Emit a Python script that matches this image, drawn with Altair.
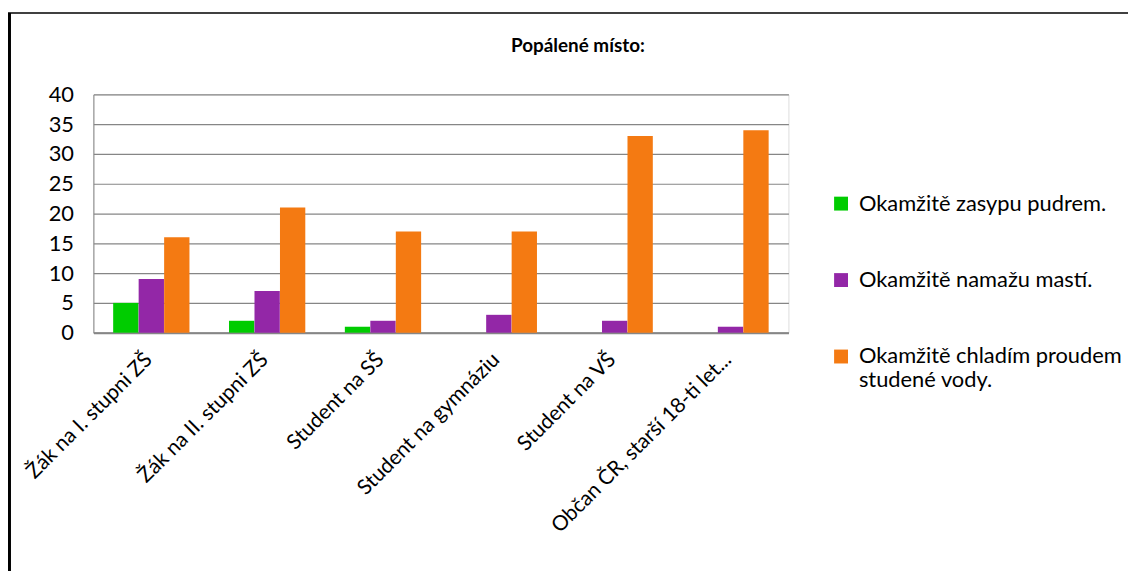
import altair as alt
import pandas as pd

categories = ["Žák na I. stupni ZŠ", "Žák na II. stupni ZŠ", "Student na SŠ",
              "Student na gymnáziu", "Student na VŠ", "Občan ČR, starší 18-ti let..."]
series = ["Okamžitě zasypu pudrem.", "Okamžitě namažu mastí.",
          "Okamžitě chladím proudem studené vody."]
pudr = [5, 2, 1, 0, 0, 0]
mast = [9, 7, 2, 3, 2, 1]
voda = [16, 21, 17, 17, 33, 34]
colors = ["#00CC00", "#9327A7", "#F47A12"]

rows = []
for s, vals in zip(series, [pudr, mast, voda]):
    for c, v in zip(categories, vals):
        rows.append({"kategorie": c, "serie": s, "hodnota": v})
df = pd.DataFrame(rows)

FONT = "Lato"

bars = alt.Chart(df).mark_bar(size=25.5).encode(
    x=alt.X("kategorie:N", sort=categories, title=None,
            scale=alt.Scale(paddingInner=0.34, paddingOuter=0.17),
            axis=alt.Axis(labelAngle=-45, labelFontSize=21, labelFont=FONT,
                          labelColor="black", ticks=False, domainColor="#868686",
                          domainWidth=2, labelPadding=16, labelOffset=-10,
                          grid=False, labelLimit=400)),
    xOffset=alt.XOffset("serie:N", sort=series),
    y=alt.Y("hodnota:Q", title=None,
            scale=alt.Scale(domain=[0, 40], nice=False),
            axis=alt.Axis(values=list(range(0, 41, 5)), labelFontSize=22,
                          labelFont=FONT, labelColor="black", ticks=False,
                          domainColor="#868686", domainWidth=1,
                          gridColor="#868686", gridWidth=1.2, labelPadding=20)),
    color=alt.Color("serie:N", sort=series,
                    scale=alt.Scale(domain=series, range=colors),
                    legend=alt.Legend(
                        title=None, orient="none", legendX=742, legendY=99,
                        symbolType="square", symbolSize=196, symbolStrokeWidth=0,
                        labelFont=FONT, labelFontSize=22, labelColor="black",
                        labelOffset=7, rowPadding=55, padding=0, labelLimit=400,
                        labelExpr="datum.label == 'Okamžitě chladím proudem studené vody.' ? ['Okamžitě chladím proudem', 'studené vody.'] : datum.label")),
)

frame_df = pd.DataFrame({"k": [0]})
left_line = alt.Chart(frame_df).mark_rule(color="black", strokeWidth=3).encode(
    x=alt.value(-84.5), y=alt.value(-82), y2=alt.value(480))
top_line = alt.Chart(frame_df).mark_rule(color="black", strokeWidth=1.5).encode(
    x=alt.value(-86), x2=alt.value(1050), y=alt.value(-82))

chart = alt.layer(bars, left_line, top_line).properties(
    width=700, height=240,
    padding={"left": 86, "top": 85, "right": 342, "bottom": 238},
    autosize=alt.AutoSizeParams(type="none"),
    title=alt.TitleParams("Popálené místo:", font=FONT, fontSize=19,
                          fontWeight="bold", color="black", anchor="middle",
                          frame="group", dx=138, offset=0, dy=45),
).configure_view(stroke=None).configure(background="white")

chart.save("out.html", embed_options={"renderer": "svg", "actions": False})
